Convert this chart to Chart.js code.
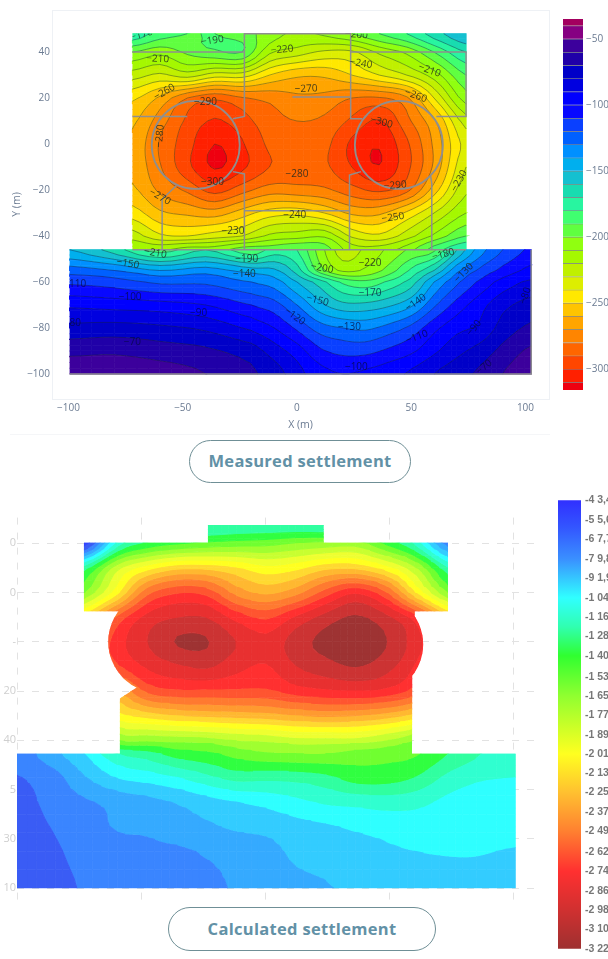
<!DOCTYPE html>
<html>
<head>
<meta charset="utf-8">
<title>Measured and calculated settlement</title>
<script src="https://cdn.jsdelivr.net/npm/chart.js@4"></script>
<style>
  html, body { margin: 0; padding: 0; background: #fff; width: 608px; height: 959px; overflow: hidden; }
  canvas { position: absolute; }
  #topMap, #calcMap { filter: blur(0.6px); }
  #topBar, #calcBar { filter: blur(0.4px); }
  .pill {
    position: absolute; box-sizing: border-box; background: #fff;
    border: 1.5px solid #6f8f96; border-radius: 22px; padding-bottom: 2px;
    font: 700 16.5px "Open Sans", sans-serif; color: #6291a6;
    display: flex; align-items: center; justify-content: center; letter-spacing: 0.3px;
  }
  .rule { position: absolute; left: 10px; top: 434px; width: 540px; height: 1px; background: #f5f6f8; }
</style>
</head>
<body>
<canvas id="topMap" style="left:0;top:0" width="552" height="434"></canvas>
<canvas id="topBar" style="left:563px;top:0" width="45" height="434"></canvas>
<div class="rule"></div>
<div class="pill" style="left:189px;top:440px;width:222px;height:43px">Measured settlement</div>
<canvas id="calcMap" style="left:0;top:510px" width="540" height="400"></canvas>
<canvas id="calcBar" style="left:558px;top:490px" width="50" height="469"></canvas>
<div class="pill" style="left:168px;top:907px;width:268px;height:44px">Calculated settlement</div>

<script>
// measured settlement, values (mm)
const upperX = [-72, -60, -48, -36, -24, -12, 0, 12, 24, 36, 48, 60, 74];
const upperY = [48, 40, 30, 20, 10, 0, -10, -20, -30, -40, -46];
const upperZ = [
  [-172, -185, -190, -190, -195, -205, -212, -208, -200, -190, -180, -165, -150],
  [-200, -207, -198, -192, -190, -218, -225, -232, -232, -218, -208, -190, -170],
  [-225, -232, -225, -235, -235, -250, -258, -258, -250, -240, -230, -215, -190],
  [-248, -262, -280, -288, -281, -277, -272, -273, -280, -281, -272, -240, -205],
  [-258, -275, -292, -301, -294, -284, -280, -282, -292, -301, -283, -262, -225],
  [-262, -281, -296, -310, -301, -288, -283, -287, -302, -309, -292, -268, -236],
  [-262, -279, -297, -311, -302, -290, -285, -288, -300, -309.5, -293, -268, -230],
  [-258, -272, -282, -294, -284, -275, -276, -278, -286, -292, -283, -255, -222],
  [-245, -258, -262, -265, -255, -245, -243, -250, -262, -262, -248, -230, -210],
  [-225, -238, -240, -235, -230, -218, -215, -212, -232, -238, -225, -208, -190],
  [-210, -212, -205, -205, -195, -195, -190, -195, -215, -215, -205, -185, -170],
];
const lowerX = [-99.5, -80, -60, -40, -20, -10, 0, 10, 20, 30, 40, 50, 60, 70, 80, 90, 102.5];
const lowerY = [-46, -55, -60, -70, -80, -90, -100];
const lowerZ = [
  [-150, -165, -185, -170, -188, -175, -180, -205, -225, -218, -208, -198, -192, -160, -135, -120, -108],
  [-125, -130, -140, -135, -145, -148, -165, -195, -212, -208, -196, -178, -160, -133, -118, -107, -97],
  [-112, -115, -122, -122, -130, -135, -150, -165, -182, -187, -178, -165, -140, -122, -108, -96, -88],
  [-92, -94, -96, -100, -110, -116, -130, -147, -157, -157, -152, -142, -122, -106, -94, -83, -76],
  [-77, -76, -78, -82, -92, -100, -112, -125, -130, -132, -126, -117, -103, -93, -88, -76, -68],
  [-63, -62, -65, -68, -75, -85, -95, -108, -113, -113, -108, -102, -92, -83, -76, -67, -58],
  [-52, -52, -55, -60, -68, -75, -86, -96, -100, -98, -94, -88, -80, -74, -68, -60, -52],
];
const topEdges = [-30, -40, -50, -60, -70, -80, -90, -100, -110, -120, -130, -140, -150, -160, -170, -180,
  -190, -200, -210, -220, -230, -240, -250, -260, -270, -280, -290, -300, -310, -320];
const topColors = ["#a3005f", "#860082", "#3c009c", "#2000a8", "#0000c8", "#0000e0", "#0000ff", "#0808ff", "#0a40ff",
  "#0060ff", "#0090ff", "#00afee", "#14c0d0", "#18dcb0", "#28f5a0", "#40ff70", "#60ff40", "#90ff10", "#a5f800",
  "#c0f000", "#ddee00", "#ffe800", "#ffc400", "#ffa500", "#ff8500", "#ff6600", "#ff4600", "#ff2000", "#ee0010"];

// grey foundation outline, null breaks the line
const wallX = [-72, -23, -23, 23.5, 23.5, 74, 74, 61, null, -72, -48, null, -23, -23, -28, null, -2, 23.5, null, 23.5, 23.5, 28.5,
  null, -28, -23, -23, null, -23, 23, null, 28, 23, 23, null, -52.7, -59, -59, null, 58.5, 59, 59, null, -72, 74, null, -99.5, 102.5, 102.5];
const wallY = [40, 40, 48, 48, 40, 40, 12, 12, null, 12, 12, null, 48, 12, 11, null, 20.5, 20.5, null, 40, 11, 11,
  null, -12, -13, -46, null, -29, -29, null, -12, -13.5, -46, null, -18, -24, -46, null, -14, -17, -46, null, -46, -46, null, -100, -100, -46];
const tankX = [-44.3, 44.6];
const tankY = [-0.4, -0.4];

const labelX = [-68, -37, -61, -6.5, 26, 28, 58, 52, 4, -58, -40, -60, -37, -60, 0, -1, -28, 37, 43, 42, 71, -62, -74, -22, -23, -96, -73, -43, -1, -97, -72, 11, 32, 64, 32, 9, 23, 52, 73, 52.5, 26, 77.5, 100, 82];
const labelY = [47.5, 45, 37, 41, 47.5, 35, 32, 21, 24, 22.6, 18, 3.5, -16.5, -23, -13, -31, -38, 9.5, -18, -32, -16, -47.5, -52, -50, -56.7, -61, -66.5, -73.5, -75, -78, -86, -54, -52, -48, -65, -68, -79.5, -69, -56, -84, -97, -80, -66, -97];
const labelText = ["−170", "−190", "−210", "−220", "−200", "−240", "−210", "−260", "−270", "−260", "−290", "−280", "−300", "−270", "−280", "−240", "−230", "−300", "−290", "−250", "−230", "−210", "−150", "−190", "−140", "110", "−100", "−90", "−120", "80", "−70", "−200", "−220", "−180", "−170", "−150", "−130", "−140", "−130", "−110", "−100", "−90", "−80", "−70"];
const labelAngle = [-15, -8, 3, -5, 3, 8, 20, 20, -3, -30, 0, -85, 0, 30, 0, 0, 0, 15, -5, -8, -60, 10, 10, 0, 0, 0, 0, 0, 35, 0, 0, 10, 0, -15, 0, 15, 0, -35, -45, -20, 0, -50, -70, -40];

// calculated settlement, values
const calcX = [-100.4, -85, -73.4, -60, -48, -36, -24, -12, 0, 12, 24, 36, 48, 60, 73.4, 85, 100.7];
const calcY = [47.4, 40.2, 30, 20, 10, 0, -10, -20, -30, -40, -45.4, -55, -65, -75, -85, -100];
const calcZ = [
  [-45, -45, -45, -100, -115, -122, -128, -130, -130, -130, -128, -122, -115, -100, -45, -45, -45],
  [-45, -45, -47, -120, -142, -150, -155, -158, -160, -165, -168, -170, -150, -125, -72, -60, -50],
  [-100, -110, -135, -185, -208, -222, -222, -215, -205, -210, -222, -223, -208, -180, -130, -110, -100],
  [-130, -140, -165, -210, -258, -273, -270, -245, -235, -245, -268, -285, -265, -215, -165, -140, -130],
  [-180, -200, -220, -265, -290, -298, -298, -282, -272, -288, -303, -312, -302, -280, -230, -200, -180],
  [-200, -225, -250, -280, -298, -311, -311, -298, -290, -304, -314, -318, -311, -292, -262, -225, -200],
  [-190, -215, -245, -272, -288, -296, -300, -290, -285, -298, -305, -310.5, -303, -285, -250, -215, -190],
  [-160, -185, -210, -235, -265, -272, -272, -272, -272, -280, -284, -286, -283, -268, -225, -190, -160],
  [-120, -150, -180, -208, -218, -225, -228, -230, -232, -237, -240, -238, -232, -220, -190, -160, -130],
  [-68, -90, -120, -165, -168, -170, -172, -178, -180, -185, -185, -185, -178, -165, -140, -122, -112],
  [-73, -89, -104, -128, -135, -146, -150, -158, -163, -165, -165, -160, -158, -155, -140, -129, -122],
  [-67, -76, -91, -105, -110, -116, -125, -133, -132, -133, -137, -146, -146, -140, -125, -118, -116],
  [-62, -73, -78, -84, -88, -93, -99, -104, -108, -113, -118, -120, -122, -120, -113, -110, -108],
  [-60, -69, -74, -81, -82, -87, -90, -94, -96, -100, -102.5, -106, -108, -110, -110, -110, -108],
  [-59, -66, -72, -75, -77, -78, -81, -84, -87, -95, -97, -99, -102, -104, -105, -105, -103],
  [-58, -63, -69, -72, -74, -76, -77, -81, -84, -88, -91, -94, -96, -97, -98, -98, -96],
];
const calcEdges = [-30, -43.4, -55.5, -67.7, -79.8, -91.9, -104, -116, -128, -140, -153, -165, -177, -189, -201, -213, -225, -237, -249, -262, -274, -286, -298, -310, -330];
const calcColors = ["#3030ff", "#3344ff", "#3a5cf5", "#3a85ff", "#35aaff", "#33ccff", "#2fffff", "#30ffd0", "#30ffa0", "#30ff40",
  "#70ff30", "#a0ff30", "#c8ff30", "#eeff30", "#ffff20", "#ffd930", "#ffb830", "#ff9a30", "#ff7a30", "#ff5530", "#ff3030", "#e83030", "#cc3333", "#9e3333"];

// outline of the calculated model: polygon plus the two tanks
const shapeX = [-23.4, 23.3, 23.3, 73.4, 73.4, 60, 59, 58.9, 100.7, 100.7, -100.4, -100.4, -58.9, -58.9, -52, -52, -73.4, -73.4, -23.4];
const shapeY = [47.4, 47.4, 40.2, 40.2, 12.4, 12.4, -13.5, -45.4, -45.4, -100, -100, -45.4, -45.4, -23, -18.5, 12.4, 12.4, 40.2, 40.2];
const calcTankX = [-43, 42.8];
const calcTankY = [0, -1];
const calcTankR = [20.6, 20.6];

const calcYTicks = [40, 20, 0, -20, -40, -60, -80, -100];
const calcYTickText = ["0", "0", "-", "20", "40", "5", "30", "10"];

const topBarTicks = [-50, -100, -150, -200, -250, -300];
const calcBarValues = [-43.4, -55.5, -67.6, -79.8, -91.9, -104, -116, -128, -140, -153, -165, -177, -189, -201, -213, -225, -237, -249, -262, -274, -286, -298, -310, -322];
const calcBarText = ["-4 3,4", "-5 5,6", "-6 7,7", "-7 9,8", "-9 1,9", "-1 04", "-1 16", "-1 28", "-1 40", "-1 53", "-1 65", "-1 77", "-1 89",
  "-2 01", "-2 13", "-2 25", "-2 37", "-2 49", "-2 62", "-2 74", "-2 86", "-2 98", "-3 10", "-3 22"];
const calcBarStopV = [-43.4, -60, -80, -104, -122, -140, -165, -201, -225, -249, -274, -298, -322];
const calcBarStopC = ["#3030ff", "#3355ff", "#3a90ff", "#30ffff", "#30ffb0", "#30ff30", "#90ff30", "#ffff20", "#ffc030", "#ff8030", "#ff3030", "#d03030", "#9e3030"];

const tickGrey = "#6b7b92";

// smooth the read grid for drawing, catmull-rom in index space
function cr(a, b, c, d, t) {
  return 0.5 * (2 * b + (c - a) * t + (2 * a - 5 * b + 4 * c - d) * t * t + (3 * b - a - 3 * c + d) * t * t * t);
}
function sample(arr, u) {
  const n = arr.length - 1;
  const i = Math.min(Math.floor(u), n - 1);
  return cr(arr[Math.max(i - 1, 0)], arr[i], arr[i + 1], arr[Math.min(i + 2, n)], u - i);
}
function lerpAxis(arr, u) {
  const i = Math.min(Math.floor(u), arr.length - 2);
  return arr[i] + (arr[i + 1] - arr[i]) * (u - i);
}
function refine(xs, ys, rows, n) {
  const nx = (xs.length - 1) * n + 1;
  const ny = (ys.length - 1) * n + 1;
  const gx = [], gy = [], gz = [];
  for (let i = 0; i < nx; i++) gx.push(lerpAxis(xs, i / n));
  for (let j = 0; j < ny; j++) gy.push(lerpAxis(ys, j / n));
  const wide = rows.map(r => gx.map((_, i) => sample(r, i / n)));
  for (let j = 0; j < ny; j++) {
    gz.push(gx.map((_, i) => sample(wide.map(r => r[i]), j / n)));
  }
  return { gx, gy, gz };
}

function clipHalf(poly, v, keepAbove) {
  const out = [];
  for (let i = 0; i < poly.length; i++) {
    const a = poly[i], b = poly[(i + 1) % poly.length];
    const ain = keepAbove ? a[2] >= v : a[2] <= v;
    const bin = keepAbove ? b[2] >= v : b[2] <= v;
    if (ain) out.push(a);
    if (ain !== bin) {
      const t = (v - a[2]) / (b[2] - a[2]);
      out.push([a[0] + (b[0] - a[0]) * t, a[1] + (b[1] - a[1]) * t, v]);
    }
  }
  return out;
}

// one fill dataset per band, polygons split by null points
function bandDatasets(grids, edges, colors) {
  const bands = colors.map(() => []);
  grids.forEach(({ gx, gy, gz }) => {
    for (let j = 0; j < gy.length - 1; j++) {
      for (let i = 0; i < gx.length - 1; i++) {
        const quad = [[gx[i], gy[j], gz[j][i]], [gx[i + 1], gy[j], gz[j][i + 1]],
          [gx[i + 1], gy[j + 1], gz[j + 1][i + 1]], [gx[i], gy[j + 1], gz[j + 1][i]]];
        const zs = quad.map(p => p[2]);
        const zMax = Math.max(...zs), zMin = Math.min(...zs);
        colors.forEach((_, k) => {
          if (zMin > edges[k] || zMax < edges[k + 1]) return;
          const poly = clipHalf(clipHalf(quad, edges[k], false), edges[k + 1], true);
          if (poly.length < 3) return;
          poly.forEach(p => bands[k].push({ x: p[0], y: p[1] }));
          bands[k].push({ x: null, y: null });
        });
      }
    }
  });
  return colors.map((c, k) => ({
    data: bands[k], showLine: true, fill: "shape", backgroundColor: c, borderColor: c,
    borderWidth: 1.1, borderDash: [99999], pointRadius: 0, order: 3,
  }));
}

function contourDataset(grids, edges) {
  const data = [];
  grids.forEach(({ gx, gy, gz }) => {
    edges.forEach(level => {
      for (let j = 0; j < gy.length - 1; j++) {
        for (let i = 0; i < gx.length - 1; i++) {
          const c = [[gx[i], gy[j], gz[j][i]], [gx[i + 1], gy[j], gz[j][i + 1]],
            [gx[i + 1], gy[j + 1], gz[j + 1][i + 1]], [gx[i], gy[j + 1], gz[j + 1][i]]];
          const hits = [];
          for (let e = 0; e < 4; e++) {
            const a = c[e], b = c[(e + 1) % 4];
            if ((a[2] >= level) !== (b[2] >= level)) {
              const t = (level - a[2]) / (b[2] - a[2]);
              hits.push({ x: a[0] + (b[0] - a[0]) * t, y: a[1] + (b[1] - a[1]) * t });
            }
          }
          for (let h = 0; h + 1 < hits.length; h += 2) {
            data.push(hits[h], hits[h + 1], { x: null, y: null });
          }
        }
      }
    });
  });
  return {
    data, showLine: true, borderColor: "rgba(25,35,45,0.5)", borderWidth: 0.8, borderDash: [99999],
    borderCapStyle: "butt", pointRadius: 0, order: 2,
  };
}

const plotFrame = {
  id: "plotFrame",
  afterDraw(chart, _, opts) {
    const a = chart.chartArea, ctx = chart.ctx;
    ctx.save();
    ctx.strokeStyle = opts.color;
    ctx.lineWidth = 1;
    ctx.strokeRect(a.left + 0.5, a.top + 0.5, a.width, a.height);
    ctx.restore();
  },
};

// contour labels are cut at the edge of the two measured blocks
const contourLabels = {
  id: "contourLabels",
  afterDatasetsDraw(chart) {
    const ctx = chart.ctx, sx = chart.scales.x, sy = chart.scales.y;
    const block = (xs, ys) => {
      const l = sx.getPixelForValue(xs[0]), t = sy.getPixelForValue(ys[0]);
      ctx.rect(l, t, sx.getPixelForValue(xs[xs.length - 1]) - l, sy.getPixelForValue(ys[ys.length - 1]) - t);
    };
    ctx.save();
    ctx.beginPath();
    block(upperX, upperY);
    block(lowerX, lowerY);
    ctx.clip();
    ctx.font = "10px 'Open Sans'";
    ctx.textAlign = "center";
    ctx.textBaseline = "middle";
    labelText.forEach((t, i) => {
      ctx.save();
      ctx.translate(sx.getPixelForValue(labelX[i]), sy.getPixelForValue(labelY[i]));
      ctx.rotate(labelAngle[i] * Math.PI / 180);
      ctx.fillStyle = labelY[i] < -60 ? "rgba(5,10,60,0.75)" : "rgba(30,40,30,0.85)";
      ctx.fillText(t, 0, 0);
      ctx.restore();
    });
    ctx.restore();
  },
};

const modelClip = {
  id: "modelClip",
  beforeDatasetsDraw(chart) {
    const ctx = chart.ctx, sx = chart.scales.x, sy = chart.scales.y;
    ctx.save();
    ctx.beginPath();
    shapeX.forEach((x, i) => {
      const px = sx.getPixelForValue(x), py = sy.getPixelForValue(shapeY[i]);
      if (i === 0) ctx.moveTo(px, py); else ctx.lineTo(px, py);
    });
    ctx.closePath();
    calcTankX.forEach((x, i) => {
      const px = sx.getPixelForValue(x), py = sy.getPixelForValue(calcTankY[i]);
      const r = sx.getPixelForValue(x + calcTankR[i]) - px;
      ctx.moveTo(px + r, py);
      ctx.arc(px, py, r, 0, Math.PI * 2);
    });
    ctx.clip();
  },
  afterDatasetsDraw(chart) {
    chart.ctx.restore();
  },
};

Chart.defaults.animation = false;
Chart.defaults.events = [];
Chart.defaults.font.family = "'Open Sans', sans-serif";
Chart.defaults.plugins.legend.display = false;
Chart.defaults.plugins.tooltip.enabled = false;

// measured map
const topGrids = [refine(upperX, upperY, upperZ, 4), refine(lowerX, lowerY, lowerZ, 4)];
new Chart(document.getElementById("topMap"), {
  type: "scatter",
  data: {
    datasets: [
      {
        data: tankX.map((x, i) => ({ x, y: tankY[i] })), pointRadius: 44, pointBorderWidth: 1.8,
        pointBorderColor: "#8f8f8f", pointBackgroundColor: "rgba(0,0,0,0)", order: 0,
      },
      {
        data: wallX.map((x, i) => ({ x, y: wallY[i] })), showLine: true, borderColor: "#8f8f8f",
        borderWidth: 1.5, borderDash: [99999], pointRadius: 0, order: 1,
      },
      contourDataset(topGrids, topEdges.slice(1, -1)),
      ...bandDatasets(topGrids, topEdges, topColors),
    ],
  },
  options: {
    responsive: false,
    layout: { autoPadding: false, padding: { top: 10, right: 3 } },
    scales: {
      x: {
        type: "linear", min: -107.2, max: 110.3,
        afterFit: (s) => { s.height = 35; },
        grid: { display: false, drawTicks: false }, border: { display: false },
        ticks: {
          stepSize: 50, includeBounds: false, padding: 3, color: tickGrey, maxRotation: 0,
          font: { size: 10 }, callback: (v) => String(v).replace("-", "−"),
        },
        title: { display: true, text: "X (m)", color: tickGrey, font: { size: 10.5 }, padding: { top: 0, bottom: 3 } },
      },
      y: {
        type: "linear", min: -110.9, max: 58.3,
        afterFit: (s) => { s.width = 52; },
        grid: { display: false, drawTicks: false }, border: { display: false },
        ticks: {
          stepSize: 20, includeBounds: false, padding: 2, color: tickGrey,
          font: { size: 10 }, callback: (v) => String(v).replace("-", "−"),
        },
        title: { display: true, text: "Y (m)", color: tickGrey, font: { size: 10.5 }, padding: { top: 11, bottom: 0 } },
      },
    },
    plugins: { plotFrame: { color: "#eef1f5" } },
  },
  plugins: [plotFrame, contourLabels],
});

// measured colour bar
new Chart(document.getElementById("topBar"), {
  type: "bar",
  data: {
    labels: [""],
    datasets: topColors.map((c, k) => ({
      data: [[topEdges[k + 1], topEdges[k]]], backgroundColor: c,
      borderColor: "rgba(30,40,40,0.55)", borderWidth: { top: 1, bottom: 0, left: 0, right: 0 }, borderSkipped: false,
    })),
  },
  options: {
    responsive: false,
    layout: { padding: { top: 19, bottom: 44 } },
    datasets: { bar: { grouped: false, barPercentage: 1, categoryPercentage: 1 } },
    scales: {
      x: { display: false },
      y: {
        position: "right", min: -316, max: -35,
        afterFit: (s) => { s.width = 25; },
        afterBuildTicks: (s) => { s.ticks = topBarTicks.map((value) => ({ value })); },
        grid: { display: false, drawTicks: false }, border: { display: false },
        ticks: { padding: 3, color: tickGrey, font: { size: 10 }, callback: (v) => String(v).replace("-", "−") },
      },
    },
  },
});

// calculated map
const calcGrid = refine(calcX, calcY, calcZ, 4);
new Chart(document.getElementById("calcMap"), {
  type: "scatter",
  data: { datasets: bandDatasets([calcGrid], calcEdges, calcColors) },
  options: {
    responsive: false,
    layout: { autoPadding: false, padding: { top: 6, bottom: 9, right: 5 } },
    scales: {
      x: {
        type: "linear", min: -100.4, max: 108.5,
        afterFit: (s) => { s.height = 0; },
        grid: { color: "#e2e2e2", drawTicks: false },
        border: { display: false, dash: [7, 8] },
        ticks: { stepSize: 50, includeBounds: false, display: false },
      },
      y: {
        type: "linear", min: -105.2, max: 50.4,
        afterFit: (s) => { s.width = 17; },
        grid: { color: "#e2e2e2", drawTicks: false },
        border: { display: false, dash: [7, 8] },
        ticks: {
          stepSize: 20, includeBounds: false, padding: 1, color: "#cfcfcf", font: { size: 11 },
          callback: (v) => calcYTickText[calcYTicks.indexOf(v)] ?? "",
        },
      },
    },
  },
  plugins: [modelClip],
});

// calculated colour bar
new Chart(document.getElementById("calcBar"), {
  type: "bar",
  data: {
    labels: [""],
    datasets: [{
      data: [[calcBarValues[calcBarValues.length - 1], calcBarValues[0]]],
      backgroundColor(ctx) {
        const chart = ctx.chart, a = chart.chartArea;
        if (!a) return calcBarStopC[0];
        const g = chart.ctx.createLinearGradient(0, a.top, 0, a.bottom);
        calcBarStopV.forEach((v, i) => {
          g.addColorStop((chart.scales.y.getPixelForValue(v) - a.top) / a.height, calcBarStopC[i]);
        });
        return g;
      },
    }],
  },
  options: {
    responsive: false,
    layout: { padding: { top: 7, bottom: 6 } },
    datasets: { bar: { barPercentage: 1, categoryPercentage: 1 } },
    scales: {
      x: { display: false },
      y: {
        position: "right", min: -322, max: -43.4,
        afterFit: (s) => { s.width = 27; },
        afterBuildTicks: (s) => { s.ticks = calcBarValues.map((value) => ({ value })); },
        grid: { display: false, drawTicks: false }, border: { display: false },
        ticks: {
          padding: 4, color: "#777", autoSkip: false, font: { size: 10.5, family: "'Liberation Sans'", weight: "bold" },
          callback: (v, i) => calcBarText[i],
        },
      },
    },
  },
});
</script>
</body>
</html>
